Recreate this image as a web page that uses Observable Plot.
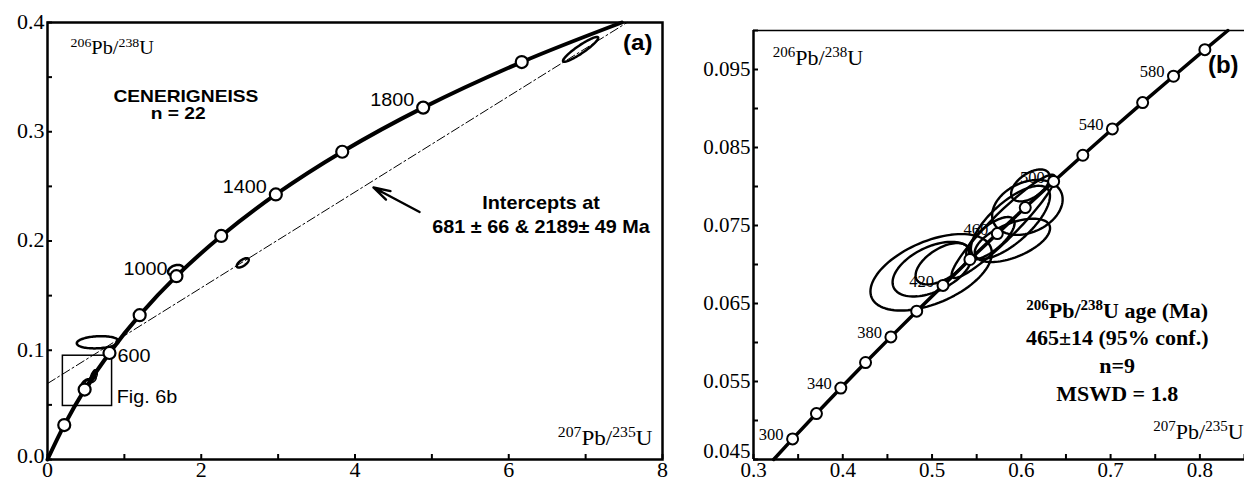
<!DOCTYPE html>
<html><head><meta charset="utf-8">
<script src="https://cdn.jsdelivr.net/npm/d3@7"></script>
<script src="https://cdn.jsdelivr.net/npm/@observablehq/plot@0.6"></script>
<style>
body{margin:0;background:#fff;}
#wrap{display:flex;width:1244px;height:482px;overflow:hidden;}
svg{display:block;}
</style></head><body><div id="wrap"><div id="pa"></div><div id="pb"></div></div>
<script>
// ---------- Panel (a): concordia (ages in Ma, ratios) ----------
const concA_age = [0, 200, 400, 600, 800, 1000, 1200, 1400, 1600, 1800, 2000, 2169];
const concA_x   = [0, 0.218, 0.483, 0.806, 1.199, 1.677, 2.260, 2.970, 3.834, 4.887, 6.169, 7.47];
const concA_y   = [0, 0.0315, 0.0640, 0.0975, 0.1321, 0.1678, 0.2046, 0.2426, 0.2817, 0.3221, 0.3638, 0.400];
const markA_ages = [200, 400, 600, 800, 1000, 1200, 1400, 1600, 1800, 2000];
const labelA_left = [1000, 1400, 1800];
const labelA_right = [600];
// discordia line (lower/upper intercept chord)
const discX = [0, 7.54];
const discY = [0.0695, 0.400];
// error ellipses in panel (a): centre, sigma, correlation
const ellA_x   = [6.935, 2.54, 1.668, 0.654];
const ellA_sx  = [0.229, 0.078, 0.100, 0.273];
const ellA_y   = [0.3754, 0.180, 0.1732, 0.1073];
const ellA_sy  = [0.01134, 0.0043, 0.0049, 0.0056];
const ellA_rho = [0.925, 0.667, 0.30, 0.16];
// Fig. 6b box
const boxX = [0.20, 0.84];
const boxY = [0.049, 0.095];
// arrow (tail -> head)
const arrowX = [4.84, 4.24];
const arrowY = [0.2265, 0.249];

// ---------- Panel (b) ----------
const concB_age = [284, 300, 320, 340, 360, 380, 400, 420, 440, 460, 480, 500, 520, 540, 560, 580, 600, 614];
const concB_x   = [0.3226, 0.3438, 0.3705, 0.3978, 0.4255, 0.4539, 0.4828, 0.5123, 0.5424, 0.5731, 0.6044, 0.6362, 0.6689, 0.7020, 0.7359, 0.7705, 0.8056, 0.8314];
const concB_y   = [0.045, 0.04764, 0.05089, 0.05416, 0.05743, 0.06072, 0.06402, 0.06732, 0.07064, 0.07396, 0.07730, 0.08065, 0.08401, 0.08738, 0.09076, 0.09414, 0.09754, 0.1000];
const markB_ages = [300, 320, 340, 360, 380, 400, 420, 440, 460, 480, 500, 520, 540, 560, 580, 600];
const labelB_ages = [300, 340, 380, 420, 460, 500, 540, 580];
const ellB_x   = [0.4990, 0.5003, 0.5116, 0.5799, 0.5878, 0.6068, 0.5900, 0.5654, 0.6102];
const ellB_sx  = [0.0680, 0.0445, 0.0300, 0.0580, 0.0443, 0.0395, 0.0422, 0.0271, 0.0216];
const ellB_y   = [0.06900, 0.06940, 0.07010, 0.07489, 0.0754, 0.07732, 0.07309, 0.07335, 0.08014];
const ellB_sy  = [0.00490, 0.00350, 0.00265, 0.00662, 0.00469, 0.00352, 0.00278, 0.00274, 0.00205];
const ellB_rho = [0.50, 0.48, 0.56, 0.94, 0.72, 0.29, 0.56, 0.72, 0.52];
const statsLines = ["^206Pb/^238U age (Ma)", "465±14 (95% conf.)", "n=9", "MSWD = 1.8"];

// ---------- ticks ----------
const xTicksA = [0, 1, 2, 3, 4, 5, 6, 7, 8];
const xLabelsA = [0, 2, 4, 6, 8];
const yTicksA = [0, 0.05, 0.1, 0.15, 0.2, 0.25, 0.3, 0.35, 0.4];
const yLabelsA = [0.1, 0.2, 0.3, 0.4];
const yLabelsA_low = [0];
const xTicksB = [0.3, 0.35, 0.4, 0.45, 0.5, 0.55, 0.6, 0.65, 0.7, 0.75, 0.8, 0.85];
const xLabelsB = [0.3, 0.4, 0.5, 0.6, 0.7, 0.8];
const yTicksB = [0.045, 0.05, 0.055, 0.06, 0.065, 0.07, 0.075, 0.08, 0.085, 0.09, 0.095, 0.1];
const yLabelsB = [0.055, 0.065, 0.075, 0.085, 0.095];
const yLabelsB_low = [0.045];

// ---------- helpers ----------
const SERIF = "Liberation Serif, Times New Roman, serif";
const SANS = "Liberation Sans, Arial, sans-serif";
function table(ages, xs, ys) { return ages.map((a, i) => ({age: a, x: xs[i], y: ys[i]})); }
function ellipses(xs, sxs, ys, sys, rhos) {
  const out = [];
  xs.forEach((cx, i) => {
    const r = rhos[i], q = Math.sqrt(1 - r * r);
    for (let k = 0; k <= 96; k++) {
      const t = 2 * Math.PI * k / 96;
      out.push({id: i, x: cx + sxs[i] * Math.cos(t), y: ys[i] + sys[i] * (r * Math.cos(t) + q * Math.sin(t))});
    }
  });
  return out;
}
function supify(svg) {
  svg.querySelectorAll("text, tspan").forEach(el => {
    if (el.childNodes.length !== 1 || el.firstChild.nodeType !== 3) return;
    const s = el.textContent;
    if (!s.includes("^")) return;
    const fs = parseFloat(getComputedStyle(el).fontSize);
    const shift = 0.36 * fs;
    el.textContent = "";
    let raised = false;
    s.split(/(\^\d+)/).forEach(part => {
      if (!part) return;
      const t = document.createElementNS("http://www.w3.org/2000/svg", "tspan");
      if (part[0] === "^") {
        t.textContent = part.slice(1);
        t.setAttribute("font-size", (0.68 * fs).toFixed(1));
        if (!raised) { t.setAttribute("dy", (-shift).toFixed(1)); raised = true; }
      } else {
        t.textContent = part;
        if (raised) { t.setAttribute("dy", shift.toFixed(1)); raised = false; }
      }
      el.appendChild(t);
    });
  });
}
// widen glyphs horizontally around each text's own anchor
function stretch(svg, f, extra) {
  svg.querySelectorAll("text").forEach(t => {
    const k = extra[t.textContent] || f;
    const tr = t.getAttribute("transform");
    if (tr) t.setAttribute("transform", tr + ` scale(${k},1)`);
    else {
      const x = +(t.getAttribute("x") || 0), y = +(t.getAttribute("y") || 0);
      t.removeAttribute("x"); t.removeAttribute("y");
      t.setAttribute("transform", `translate(${x},${y}) scale(${k},1)`);
    }
  });
}
const f1 = d3.format(".1f"), f3 = d3.format(".3f");
// tick marks (inward) and tick labels drawn as text marks through the scales
function tickMarks(xt, yt) {
  return [
    Plot.axisX({ticks: xt, tickSize: -5, tickFormat: () => "", strokeWidth: 2, label: null}),
    Plot.axisY({ticks: yt, tickSize: -5, tickFormat: () => "", strokeWidth: 2, label: null})
  ];
}
function xLabels(vals, fmt, size) {
  return Plot.text(vals, {x: d => d, text: d => fmt(d), frameAnchor: "bottom", lineAnchor: "top", dy: 3, fontFamily: SERIF, fontSize: size});
}
function yLabels(vals, fmt, size, dy = 0) {
  return Plot.text(vals, {y: d => d, text: d => fmt(d), frameAnchor: "left", textAnchor: "end", dx: -3, dy, fontFamily: SERIF, fontSize: size});
}

// ---------- Panel (a) ----------
const concA = table(concA_age, concA_x, concA_y);
const markA = concA.filter(d => markA_ages.includes(d.age));
const disc = discX.map((x, i) => ({x, y: discY[i]}));
const ellA = ellipses(ellA_x, ellA_sx, ellA_y, ellA_sy, ellA_rho);
const ellBinA = ellipses(ellB_x, ellB_sx, ellB_y, ellB_sy, ellB_rho);

const plotA = Plot.plot({
  width: 680, height: 482,
  marginLeft: 47, marginRight: 18, marginTop: 22, marginBottom: 23,
  x: {domain: [0, 8], label: null},
  y: {domain: [0, 0.4], label: null},
  style: {fontFamily: SERIF, fontSize: "20px", background: "white", color: "black"},
  marks: [
    Plot.line(disc, {x: "x", y: "y", stroke: "black", strokeWidth: 1, strokeDasharray: "9,3,2,3"}),
    Plot.rect([{x1: boxX[0], x2: boxX[1], y1: boxY[0], y2: boxY[1]}], {x1: "x1", x2: "x2", y1: "y1", y2: "y2", fill: "none", stroke: "black", strokeWidth: 1.5}),
    Plot.line(ellA, {x: "x", y: "y", z: "id", stroke: "black", strokeWidth: 2.5}),
    Plot.line(ellBinA, {x: "x", y: "y", z: "id", stroke: "black", strokeWidth: 1.6}),
    Plot.line(concA, {x: "x", y: "y", curve: "catmull-rom", stroke: "black", strokeWidth: 4}),
    Plot.dot(markA, {x: "x", y: "y", r: 6, fill: "white", stroke: "black", strokeWidth: 2.2}),
    Plot.text(concA.filter(d => labelA_left.includes(d.age)), {x: "x", y: "y", text: d => String(d.age), textAnchor: "end", dx: -9, dy: -7, fontFamily: SANS, fontSize: 18}),
    Plot.text(concA.filter(d => labelA_right.includes(d.age)), {x: "x", y: "y", text: d => String(d.age), textAnchor: "start", dx: 8, dy: 3, fontFamily: SANS, fontSize: 18}),
    Plot.arrow([{x1: arrowX[0], y1: arrowY[0], x2: arrowX[1], y2: arrowY[1]}], {x1: "x1", y1: "y1", x2: "x2", y2: "y2", stroke: "black", strokeWidth: 2.4, headLength: 15, headAngle: 32}),
    Plot.text(["^206Pb/^238U"], {x: 0.30, y: 0.377, textAnchor: "start", fontFamily: SERIF, fontSize: 18.5}),
    Plot.text(["^207Pb/^235U"], {x: 7.87, y: 0.0195, textAnchor: "end", fontFamily: SERIF, fontSize: 21}),
    Plot.text(["CENERIGNEISS"], {x: 1.80, y: 0.3318, fontFamily: SANS, fontWeight: "bold", fontSize: 16}),
    Plot.text(["n = 22"], {x: 1.70, y: 0.3163, fontFamily: SANS, fontWeight: "bold", fontSize: 16}),
    Plot.text(["Intercepts at\n681 ± 66 & 2189± 49 Ma"], {x: 6.42, y: 0.2253, fontFamily: SANS, fontWeight: "bold", fontSize: 18, lineHeight: 1.33}),
    Plot.text(["Fig. 6b"], {x: 0.90, y: 0.0573, textAnchor: "start", fontFamily: SANS, fontSize: 18}),
    Plot.text(["(a)"], {x: 7.87, y: 0.381, textAnchor: "end", fontFamily: SANS, fontWeight: "bold", fontSize: 22}),
    ...tickMarks(xTicksA, yTicksA),
    xLabels(xLabelsA, d3.format("d"), 20),
    yLabels(yLabelsA, f1, 20),
    yLabels(yLabelsA_low, f1, 20, -3),
    Plot.frame({stroke: "black", strokeWidth: 2.5})
  ]
});

// ---------- Panel (b) ----------
const concB = table(concB_age, concB_x, concB_y);
const markB = concB.filter(d => markB_ages.includes(d.age));
const ellB = ellipses(ellB_x, ellB_sx, ellB_y, ellB_sy, ellB_rho);

const plotB = Plot.plot({
  width: 564, height: 482,
  marginLeft: 73, marginRight: 0, marginTop: 30, marginBottom: 23,
  x: {domain: [0.3, 0.85], label: null},
  y: {domain: [0.045, 0.1], label: null},
  style: {fontFamily: SERIF, fontSize: "21px", background: "white", color: "black"},
  marks: [
    Plot.text(concB.filter(d => labelB_ages.includes(d.age)), {x: "x", y: "y", text: d => String(d.age), textAnchor: "end", dx: -9, dy: -4, fontFamily: SERIF, fontSize: 16.5}),
    Plot.line(ellB, {x: "x", y: "y", z: "id", stroke: "black", strokeWidth: 2.4}),
    Plot.line(concB, {x: "x", y: "y", stroke: "black", strokeWidth: 3.5}),
    Plot.dot(markB, {x: "x", y: "y", r: 5.5, fill: "white", stroke: "black", strokeWidth: 2}),
    Plot.text(["^206Pb/^238U"], {x: 0.3217, y: 0.0965, textAnchor: "start", fontFamily: SERIF, fontSize: 22}),
    Plot.text(["^207Pb/^235U"], {x: 0.849, y: 0.04854, textAnchor: "end", fontFamily: SERIF, fontSize: 22}),
    Plot.text(["(b)"], {x: 0.8434, y: 0.0955, textAnchor: "end", fontFamily: SANS, fontWeight: "bold", fontSize: 24}),
    Plot.text([statsLines.join("\n")], {x: 0.7074, y: 0.0590, fontFamily: SERIF, fontWeight: "bold", fontSize: 22, lineHeight: 1.26}),
    ...tickMarks(xTicksB, yTicksB),
    xLabels(xLabelsB, f1, 21),
    yLabels(yLabelsB, f3, 21),
    yLabels(yLabelsB_low, f3, 21, -8),
    Plot.ruleY([yTicksB[0]], {stroke: "black", strokeWidth: 2.5}),
    Plot.ruleY([yTicksB[yTicksB.length - 1]], {stroke: "black", strokeWidth: 1.5}),
    Plot.ruleX([xTicksB[0]], {stroke: "black", strokeWidth: 2.5})
  ]
});

document.getElementById("pa").appendChild(plotA);
document.getElementById("pb").appendChild(plotB);
supify(plotA);
supify(plotB);
stretch(plotA, 1.1, {"CENERIGNEISS": 1.2, "n = 22": 1.2});
</script></body></html>
